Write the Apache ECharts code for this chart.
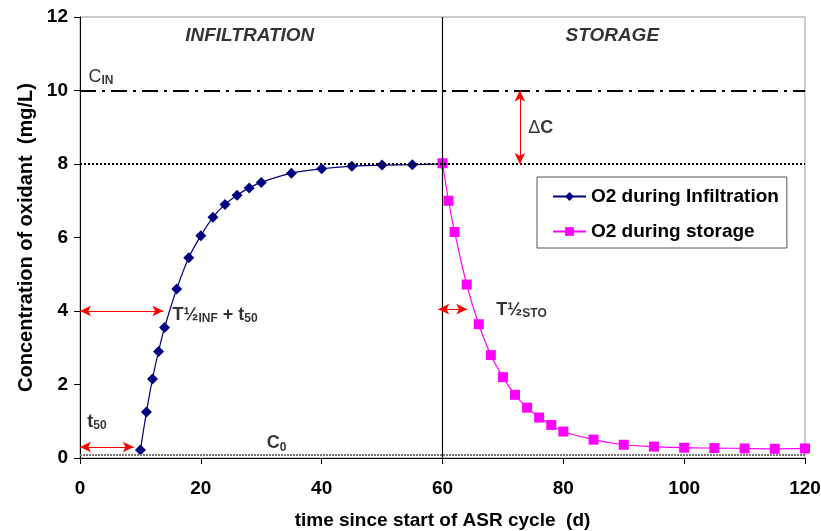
<!DOCTYPE html>
<html>
<head>
<meta charset="utf-8">
<script src="https://cdn.jsdelivr.net/npm/echarts@6/dist/echarts.min.js"></script>
<style>
  html, body { margin: 0; padding: 0; background: #ffffff; }
  #chart { width: 821px; height: 531px; }
</style>
</head>
<body>
<div id="chart"></div>
<script>
// Oxidant (O2) concentration over one ASR cycle: infiltration then storage
const infDays = [10, 11, 12, 13, 14, 16, 18, 20, 22, 24, 26, 28, 30, 35, 40, 45, 50, 55, 60];
const infO2   = [0.22, 1.25, 2.15, 2.9, 3.55, 4.6, 5.45, 6.05, 6.55, 6.9, 7.15, 7.35, 7.5, 7.75, 7.87, 7.94, 7.97, 7.98, 8.0];
const stoDays = [60, 61, 62, 64, 66, 68, 70, 72, 74, 76, 78, 80, 85, 90, 95, 100, 105, 110, 115, 120];
const stoO2   = [8.02, 7.0, 6.15, 4.72, 3.64, 2.8, 2.2, 1.72, 1.37, 1.1, 0.9, 0.72, 0.5, 0.36, 0.31, 0.28, 0.27, 0.26, 0.25, 0.26];

const seriesNames = ['O2 during Infiltration', 'O2 during storage'];
const xTicks = [0, 20, 40, 60, 80, 100, 120];
const yTicks = [0, 2, 4, 6, 8, 10, 12];

// Reference levels (mg/L) and the day storage begins
const cIn = 10;
const cEnd = 8;
const c0 = 0.1;
const phaseSplit = 60;

// Double-headed annotation arrows: [x1, y1, x2, y2]
const arrows = [
  [72.8, 10, 72.8, 8],      // ΔC
  [0, 4, 13.8, 4],          // T½INF + t50
  [0, 0.3, 8.9, 0.3],       // t50
  [59.3, 4.05, 64.1, 4.05]  // T½STO
];

// Text annotations: [x, y, key]
const notes = [
  [28.1, 11.24, 'inf'],
  [88.1, 11.24, 'sto'],
  [1.4, 10.37, 'cin'],
  [74.2, 8.98, 'dc'],
  [15.3, 3.89, 'thalfInf'],
  [1.2, 0.98, 't50'],
  [30.9, 0.4, 'c0'],
  [68.9, 4.03, 'thalfSto']
];

const FONT = '"Liberation Sans", Arial, sans-serif';
const sub = { fontSize: 12, fontWeight: 'bold', fontFamily: FONT, color: '#000', padding: [8, 0, 0, 0] };
const big = { fontSize: 18, fontWeight: 'bold', fontFamily: FONT, color: '#000' };
const thin = { fontSize: 18, fontWeight: 'normal', fontFamily: FONT, color: '#000' };

const noteText = {
  inf: '{ital|INFILTRATION}',
  sto: '{ital|STORAGE}',
  cin: '{n|C}{s|IN}',
  dc: '{n|Δ}{b|C}',
  thalfInf: '{b|T½}{s|INF}{b| + t}{s|50}',
  t50: '{b|t}{s|50}',
  c0: '{b|C}{s|0}',
  thalfSto: '{b|T½}{s|STO}'
};

const chart = echarts.init(document.getElementById('chart'), null, { renderer: 'canvas' });

chart.setOption({
  animation: false,
  backgroundColor: '#ffffff',
  grid: {
    left: 80, right: 16, top: 17, bottom: 73,
    outerBoundsMode: 'none',
    containLabel: false,
    show: true, borderColor: '#999999', borderWidth: 1
  },
  legend: {
    data: seriesNames,
    orient: 'vertical',
    left: 537, top: 177,
    padding: [10, 8, 7, 15],
    itemGap: 16,
    itemWidth: 33, itemHeight: 11,
    borderColor: '#555555', borderWidth: 1,
    backgroundColor: '#ffffff',
    textStyle: { fontFamily: FONT, fontSize: 19, fontWeight: 'bold', color: '#000' }
  },
  xAxis: {
    type: 'value',
    min: 0, max: 120, interval: 20,
    name: 'time since start of ASR cycle  (d)',
    nameLocation: 'middle', nameGap: 53,
    nameMoveOverlap: false,
    nameTextStyle: { fontFamily: FONT, fontSize: 19, fontWeight: 'bold', color: '#000' },
    axisLine: { show: true, onZero: false, lineStyle: { color: '#000', width: 1 } },
    axisTick: { show: true, inside: false, length: 6, lineStyle: { color: '#000' } },
    axisLabel: {
      fontFamily: FONT, fontSize: 19, fontWeight: 'bold', color: '#000', margin: 21,
      formatter: v => (xTicks.indexOf(v) >= 0 ? String(v) : '')
    },
    splitLine: { show: false }
  },
  yAxis: {
    type: 'value',
    min: 0, max: 12, interval: 2,
    name: 'Concentration of oxidant  (mg/L)',
    nameLocation: 'middle', nameGap: 44,
    nameMoveOverlap: false,
    nameTextStyle: { fontFamily: FONT, fontSize: 20, fontWeight: 'bold', color: '#000' },
    axisLine: { show: true, onZero: false, lineStyle: { color: '#000', width: 1 } },
    axisTick: { show: true, inside: false, length: 6, lineStyle: { color: '#000' } },
    axisLabel: {
      fontFamily: FONT, fontSize: 19, fontWeight: 'bold', color: '#000', margin: 12,
      formatter: v => (yTicks.indexOf(v) >= 0 ? String(v) : '')
    },
    splitLine: { show: false }
  },
  series: [
    {
      // reference lines, phase divider and arrows
      type: 'line',
      name: 'refs',
      data: [],
      silent: true,
      z: 1,
      markLine: {
        silent: true,
        symbol: ['none', 'none'],
        label: { show: false },
        animation: false,
        data: [
          [{ coord: [0, cIn], lineStyle: { color: '#000', width: 2, type: [16, 6, 3, 6] } }, { coord: [120, cIn] }],
          [{ coord: [0, cEnd], lineStyle: { color: '#000', width: 2, type: [2, 2] } }, { coord: [120, cEnd] }],
          [{ coord: [0, c0], lineStyle: { color: '#777', width: 2, type: [2, 1] } }, { coord: [120, c0] }],
          [{ coord: [phaseSplit, 0], lineStyle: { color: '#000', width: 1.2, type: 'solid' } }, { coord: [phaseSplit, 12] }]
        ].concat(arrows.map(a => [
          { coord: [a[0], a[1]], symbol: 'arrow', symbolSize: [8, 11],
            lineStyle: { color: '#ff0000', width: 1, type: 'solid' } },
          { coord: [a[2], a[3]], symbol: 'arrow', symbolSize: [8, 11] }
        ]))
      }
    },
    {
      name: seriesNames[0],
      type: 'line',
      data: infDays.map((d, i) => [d, infO2[i]]),
      symbol: 'diamond',
      symbolSize: 11,
      smooth: 0.3,
      lineStyle: { color: '#000080', width: 1.2 },
      itemStyle: { color: '#000080' },
      z: 3
    },
    {
      name: seriesNames[1],
      type: 'line',
      data: stoDays.map((d, i) => [d, stoO2[i]]),
      symbol: 'rect',
      symbolSize: 10,
      smooth: 0.3,
      lineStyle: { color: '#ff00ff', width: 1.2 },
      itemStyle: { color: '#ff00ff' },
      z: 4
    },
    {
      name: 'notes',
      type: 'scatter',
      data: notes,
      symbolSize: 0,
      silent: true,
      z: 5,
      label: {
        show: true,
        position: 'inside',
        align: 'left',
        verticalAlign: 'middle',
        formatter: p => noteText[p.data[2]],
        rich: {
          ital: { fontSize: 19, fontWeight: 'bold', fontStyle: 'italic', fontFamily: FONT, color: '#000' },
          b: big,
          n: thin,
          s: sub
        }
      },
      // the two phase titles are centred on their anchor
      labelLayout: p => {
        const key = notes[p.dataIndex][2];
        if (key === 'inf' || key === 'sto') {
          return { x: p.rect.x + p.rect.width / 2 - p.labelRect.width / 2, y: p.labelRect.y };
        }
        return {};
      }
    }
  ]
});
</script>
</body>
</html>
